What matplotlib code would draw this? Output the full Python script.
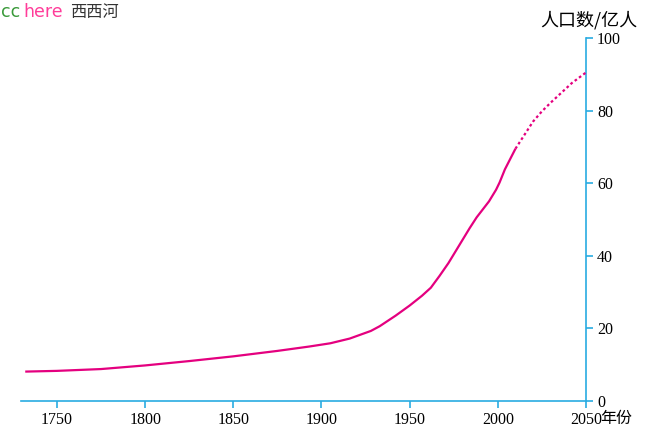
import matplotlib
matplotlib.use("Agg")
import matplotlib.pyplot as plt

# data
years_actual = [1732, 1750, 1775, 1800, 1825, 1850, 1875, 1893, 1905, 1916, 1928, 1933, 1942, 1950,
                1957, 1962, 1967, 1972, 1978, 1984, 1988, 1995, 1999, 2001, 2004, 2010]
pop_actual = [8.1, 8.3, 8.8, 9.8, 11.0, 12.3, 13.8, 15.0, 15.9, 17.2, 19.3, 20.6, 23.5, 26.3,
              29.0, 31.2, 34.5, 38.0, 42.8, 47.6, 50.6, 55.0, 58.2, 60.2, 63.8, 69.5]
years_proj = [2010, 2014, 2020, 2025, 2030, 2036, 2042, 2050]
pop_proj = [69.5, 72.5, 77.0, 79.8, 82.2, 84.9, 87.6, 90.5]
xticks = [1750, 1800, 1850, 1900, 1950, 2000, 2050]
yticks = [0, 20, 40, 60, 80, 100]

blue = "#29abe2"
mag = "#e4007f"
serif = ["Liberation Serif", "DejaVu Serif"]
cjk = ["Noto Sans CJK SC", "DejaVu Sans"]

fig = plt.figure(figsize=(6.5, 4.33), dpi=100)
ax = fig.add_axes([21/650, 1-401/433, (586-21)/650, (401-38)/433])
ax.plot(years_actual, pop_actual, color=mag, lw=1.6, solid_capstyle="butt", solid_joinstyle="round")
ax.plot(years_proj, pop_proj, color=mag, lw=1.6, dashes=(1.2, 1.2))
ax.set_xlim(1729.6, 2050)
ax.set_ylim(0, 100)
for s in ["left", "top"]:
    ax.spines[s].set_visible(False)
for s in ["bottom", "right"]:
    ax.spines[s].set_color(blue)
    ax.spines[s].set_linewidth(1.2)
    ax.spines[s].set_zorder(0)
ax.yaxis.tick_right()
ax.set_xticks(xticks)
ax.set_yticks(yticks)
ax.set_xticklabels([str(v) for v in xticks], fontfamily=serif, fontsize=11.5)
ax.set_yticklabels([str(v) for v in yticks], fontfamily=serif, fontsize=11.5)
ax.tick_params(axis="x", direction="out", length=5, width=1.2, color=blue, pad=3)
ax.tick_params(axis="y", direction="out", length=5, width=1.2, color=blue, pad=3)
ax.set_facecolor("none")

fig.text(600/650, 1-418/433, "年份", fontfamily=cjk, fontsize=11.5, ha="left", va="center")
fig.text(637/650, 1-20/433, "人口数/亿人", fontfamily=cjk, fontsize=13, ha="right", va="center")

fig.text(1/650, 1-12/433, "cc", color="#3a9a3a", fontsize=12.5, ha="left", va="center", fontfamily="DejaVu Sans")
fig.text(23/650, 1-12/433, "here", color="#ff3d9a", fontsize=12.5, ha="left", va="center", fontfamily="DejaVu Sans")
fig.text(70/650, 1-12/433, "西西河", color="#333333", fontsize=11.7, ha="left", va="center", fontfamily=cjk)

fig.savefig("out.png", dpi=100)
